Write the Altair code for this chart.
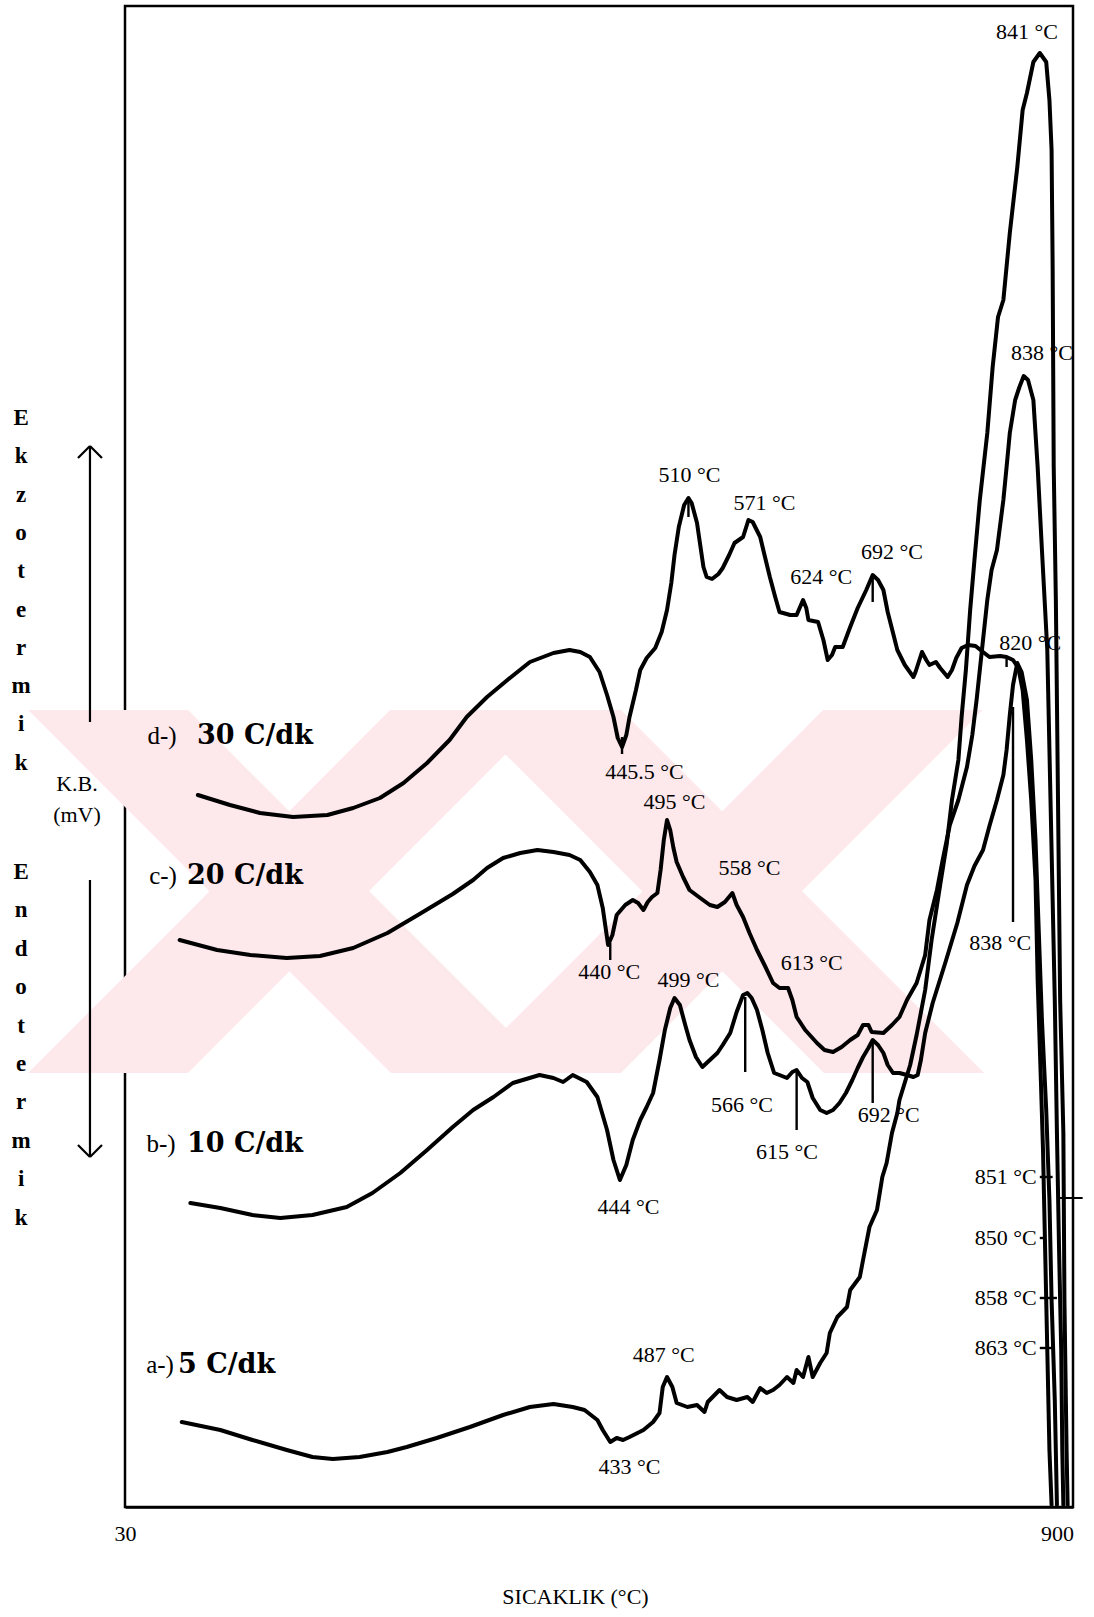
import altair as alt
import pandas as pd

# ---- DTA curves: temperature axis units and differential signal (arbitrary mV units) ----
# d-) 30 C/dk
d_temp = [98, 128, 156, 187, 219, 243, 268, 290, 312, 333, 349, 368, 387, 408, 430, 445, 455, 464,
          473, 480, 486, 490, 494, 498, 501, 507, 511, 517, 525, 531, 536, 540, 543, 547, 552, 556,
          559, 564, 567, 570, 573, 578, 584, 588, 594, 599, 607, 612, 616, 623, 627, 632, 637, 641,
          651, 657, 663, 666, 668, 677, 682, 686, 690, 693, 700, 707, 714, 722, 728, 733, 738, 742,
          747, 751, 758, 766, 768, 774, 778, 781, 787, 791, 798, 802, 806, 811, 817, 824, 831, 837,
          847, 853, 859, 864, 868, 872, 876, 880, 882, 885, 887, 889, 891, 893, 895]
d_sig = [71.2, 70.2, 69.4, 69.0, 69.2, 69.9, 70.9, 72.4, 74.4, 76.7, 79.0, 81.0, 82.7, 84.5, 85.4,
         85.7, 85.5, 85.0, 83.5, 81.2, 79.0, 76.9, 76.0, 77.2, 79.0, 81.7, 83.7, 84.9, 85.9, 87.5,
         89.7, 92.4, 95.2, 98.0, 100.2, 100.9, 100.4, 98.4, 96.2, 94.0, 93.0, 92.8, 93.3, 93.9, 95.2,
         96.4, 97.0, 98.7, 98.5, 97.0, 95.2, 93.0, 91.0, 89.5, 89.2, 89.2, 90.7, 89.9, 88.7, 88.5,
         86.7, 84.7, 85.2, 86.0, 86.0, 88.0, 89.9, 91.7, 93.2, 92.7, 91.7, 89.5, 87.4, 85.7, 84.2,
         83.0, 83.5, 85.5, 84.7, 84.2, 84.5, 83.9, 83.0, 83.7, 84.9, 85.9, 86.2, 86.1, 85.5, 85.0,
         85.1, 85.0, 84.7, 83.9, 81.7, 76.7, 70.7, 62.7, 52.7, 42.7, 35.7, 25.7, 15.7, 5.7, 0.2]

# c-) 20 C/dk
c_temp = [81, 116, 147, 181, 212, 243, 275, 305, 336, 355, 368, 383, 399, 415, 430, 445, 455, 464,
          471, 476, 481, 485, 489, 497, 504, 509, 514, 518, 522, 527, 530, 533, 536, 539, 542, 545,
          551, 557, 567, 576, 583, 590, 597, 601, 607, 613, 620, 627, 635, 641, 649, 653, 657, 665,
          676, 683, 691, 699, 707, 714, 719, 724, 727, 738, 746, 753, 760, 769, 777, 781, 788, 793,
          800, 808, 816, 821, 825, 830, 835, 839, 844, 850, 853, 856, 861, 865, 869, 873, 878, 882,
          886, 891, 893, 896, 898, 900, 902, 904, 905, 906]
c_sig = [56.7, 55.7, 55.2, 54.9, 55.1, 55.9, 57.4, 59.3, 61.3, 62.7, 63.9, 64.9, 65.4, 65.7, 65.5,
         65.2, 64.7, 63.5, 62.2, 59.9, 56.2, 57.2, 59.2, 60.2, 60.7, 60.4, 59.7, 60.5, 61.0, 61.4,
         63.7, 66.7, 68.7, 67.7, 65.9, 64.5, 63.0, 61.7, 60.9, 60.2, 60.0, 60.5, 61.4, 60.2, 59.0,
         57.4, 55.7, 54.2, 52.4, 51.9, 51.9, 50.7, 49.0, 47.7, 46.4, 45.7, 45.5, 46.0, 46.7, 47.2,
         48.2, 48.2, 47.5, 47.4, 48.2, 49.0, 50.7, 52.4, 55.2, 58.7, 61.7, 64.5, 68.2, 70.7, 74.0,
         77.2, 80.7, 85.7, 90.7, 93.7, 95.7, 100.7, 104.0, 107.4, 110.7, 112.0, 113.1, 112.7, 110.7,
         104.0, 95.7, 85.7, 75.7, 60.7, 50.7, 37.4, 25.7, 15.7, 5.7, 0.2]

# b-) 10 C/dk
b_temp = [91, 119, 149, 175, 205, 237, 261, 287, 312, 336, 355, 374, 392, 417, 430, 439, 448, 461,
          471, 480, 486, 492, 498, 504, 511, 517, 523, 529, 534, 539, 543, 548, 553, 557, 563, 569,
          576, 583, 588, 595, 601, 607, 611, 615, 620, 625, 630, 636, 641, 648, 653, 657, 662, 667,
          672, 679, 685, 691, 697, 703, 709, 714, 719, 724, 728, 733, 738, 742, 747, 753, 760, 766,
          770, 773, 777, 784, 796, 807, 816, 823, 831, 837, 844, 850, 853, 856, 859, 863, 867, 872,
          876, 880, 883, 886, 890, 893, 895, 898, 900]
b_sig = [30.4, 29.9, 29.2, 28.9, 29.2, 30.0, 31.4, 33.4, 35.7, 38.0, 39.7, 41.0, 42.4, 43.2, 42.9,
         42.5, 43.2, 42.5, 41.0, 37.7, 34.7, 32.7, 34.2, 36.7, 38.7, 40.0, 41.4, 44.7, 47.7, 49.9,
         50.9, 50.2, 48.2, 46.7, 45.0, 44.0, 44.7, 45.4, 46.2, 47.4, 49.5, 51.2, 51.4, 50.9, 49.7,
         47.7, 45.4, 43.4, 43.2, 42.9, 43.5, 43.7, 42.9, 42.5, 40.9, 39.7, 39.4, 39.7, 40.4, 41.4,
         42.7, 43.9, 45.0, 45.9, 46.7, 46.2, 45.4, 44.2, 43.4, 43.4, 43.2, 43.0, 43.2, 44.7, 47.4,
         50.4, 54.5, 58.4, 62.2, 64.1, 65.7, 68.1, 70.7, 73.2, 75.7, 79.2, 82.2, 84.4, 83.5, 80.7,
         74.7, 66.7, 57.7, 48.7, 39.7, 30.7, 20.7, 10.7, 0.2]

# a-) 5 C/dk
a_temp = [83, 119, 149, 181, 205, 224, 249, 275, 293, 321, 352, 383, 408, 430, 448, 459, 471, 476,
          483, 489, 495, 501, 514, 523, 529, 532, 536, 541, 545, 555, 564, 571, 574, 585, 592, 601,
          611, 616, 623, 629, 635, 641, 648, 654, 657, 663, 668, 672, 679, 685, 688, 695, 704, 707,
          716, 719, 725, 732, 737, 741, 746, 751, 753, 763, 769, 777, 783, 791, 797, 802, 808, 811,
          815, 819, 823, 828, 835, 840, 845, 850, 856, 863, 868, 872, 878, 884, 890, 893, 895, 896,
          897, 899, 901, 903, 906, 907, 909, 910]
a_sig = [8.5, 7.7, 6.7, 5.7, 5.0, 4.8, 5.0, 5.5, 6.0, 6.9, 8.0, 9.2, 10.0, 10.3, 10.0, 9.7, 8.7,
         7.7, 6.5, 6.9, 6.7, 7.0, 7.7, 8.5, 9.4, 12.0, 13.0, 12.0, 10.4, 10.0, 10.2, 9.5, 10.5, 11.7,
         11.0, 10.7, 11.0, 10.5, 11.9, 11.4, 11.7, 12.2, 13.0, 12.4, 13.7, 13.0, 15.0, 13.0, 14.4,
         15.4, 17.4, 19.0, 20.0, 21.7, 23.0, 24.7, 28.0, 29.7, 33.0, 34.4, 37.4, 39.4, 40.7, 44.2,
         47.2, 51.7, 56.7, 62.2, 66.2, 70.7, 74.7, 79.0, 83.7, 89.7, 94.7, 100.7, 107.4, 114.0,
         119.0, 120.7, 127.4, 134.0, 139.7, 141.4, 144.5, 145.4, 144.5, 140.7, 135.7, 124.0, 104.0,
         90.7, 70.7, 50.7, 37.4, 20.7, 5.7, 0.2]

# ---- peak / event annotations ----
peak_text = ["445.5 °C", "510 °C", "571 °C", "624 °C", "692 °C", "820 °C",
             "495 °C", "558 °C", "440 °C", "613 °C",
             "499 °C", "444 °C", "566 °C", "615 °C", "692 °C", "838 °C",
             "487 °C", "433 °C", "841 °C", "838 °C"]
peak_temp = [515, 557, 627, 680, 746, 875,
             543, 613, 482, 671,
             556, 500, 606, 648, 743, 847,
             533, 501, 872, 886]
peak_sig = [73.5, 103.2, 100.4, 93.0, 95.5, 86.4,
            70.5, 63.9, 53.5, 54.4,
            52.7, 30.0, 40.2, 35.5, 39.2, 56.4,
            15.2, 4.0, 147.5, 115.4]

# vertical leader marks from peaks to their labels
lead_temp = [494, 556, 728, 853, 483, 609, 657, 728, 859]
lead_top = [77.0, 101.0, 93.0, 84.8, 56.4, 51.0, 43.7, 46.7, 80.0]
lead_bot = [75.3, 99.0, 90.5, 84.0, 54.7, 43.5, 37.7, 40.4, 58.5]

# end-of-reaction temperatures on the falling branches
end_text = ["851 °C", "850 °C", "858 °C", "863 °C"]
end_sig = [33.0, 26.9, 20.9, 15.9]
end_tick_from = [884, 884, 884, 884]
end_tick_to = [896, 889, 900, 896]

# heating-rate labels
rate_prefix = ["d-)", "c-)", "b-)", "a-)"]
rate_text = ["30  C/dk", "20  C/dk", "10  C/dk", "5  C/dk"]
rate_prefix_temp = [64.5, 65.5, 63.6, 62.7]
rate_temp = [97.2, 87.9, 87.9, 79.5]
rate_sig = [77.1, 63.1, 36.3, 14.2]

# faint background emblem: four diagonal bands forming two crosses
band_id = ["x1a"] * 4 + ["x1b"] * 4 + ["x2a"] * 4 + ["x2b"] * 4
band_temp = [-60.5, 88.8, 278.3, 427.7,
             -60.5, 88.8, 277.4, 426.7,
             343.7, 493.0, 682.5, 831.9,
             343.7, 493.0, 681.6, 830.9]
band_hi = [79.7, 79.7, 59.4, 43.4,
           43.4, 59.4, 79.7, 79.7,
           79.7, 79.7, 59.4, 43.4,
           43.4, 59.4, 79.7, 79.7]
band_lo = [79.7, 63.7, 43.4, 43.4,
           43.4, 43.4, 63.7, 79.7,
           79.7, 63.7, 43.4, 43.4,
           43.4, 43.4, 63.7, 79.7]

x_scale = alt.Scale(domain=[30, 915], nice=False, zero=False)
y_scale = alt.Scale(domain=[0, 150.1], nice=False, zero=False)
x_axis = alt.Axis(values=[30, 900], ticks=False, tickSize=0, grid=False, labelPadding=16,
                  labelFlush=False, labelFont="Liberation Serif", labelFontSize=22,
                  labelColor="black", domainColor="black", domainWidth=2.5,
                  title="SICAKLIK (°C)", titleFont="Liberation Serif", titleFontSize=22,
                  titleFontWeight="normal", titleColor="black", titleX=450, titleY=89,
                  titleAlign="center", titleBaseline="middle")


def X(field):
    return alt.X(field, type="quantitative", scale=x_scale, axis=x_axis)


def Y(field):
    return alt.Y(field, type="quantitative", scale=y_scale, axis=None)


bands_df = pd.DataFrame({"band": band_id, "T": band_temp, "hi": band_hi, "lo": band_lo})
bands = alt.Chart(bands_df).mark_area(color="#fde8ec", opacity=1, clip=False).encode(
    x=X("T"), y=Y("hi"), y2="lo", detail="band:N")

rows = []
for name, ts, vs in [("d", d_temp, d_sig), ("c", c_temp, c_sig),
                     ("b", b_temp, b_sig), ("a", a_temp, a_sig)]:
    for i, (t, v) in enumerate(zip(ts, vs)):
        rows.append({"curve": name, "i": i, "T": t, "V": v})
curves_df = pd.DataFrame(rows)

curves = alt.Chart(curves_df).mark_line(
    color="black", strokeWidth=4, strokeJoin="round", strokeCap="round"
).encode(x=X("T"), y=Y("V"), detail="curve:N", order="i:Q")

peaks_df = pd.DataFrame({"label": peak_text, "T": peak_temp, "V": peak_sig})
peak_labels = alt.Chart(peaks_df).mark_text(
    font="Liberation Serif", fontSize=22, color="black", baseline="middle", align="center"
).encode(x=X("T"), y=Y("V"), text="label:N")

leads_df = pd.DataFrame({"T": lead_temp, "V1": lead_top, "V2": lead_bot})
leads = alt.Chart(leads_df).mark_rule(color="black", strokeWidth=2.4).encode(
    x=X("T"), y=Y("V1"), y2="V2")

ends_df = pd.DataFrame({"label": end_text, "V": end_sig, "T1": end_tick_from, "T2": end_tick_to})
end_labels = alt.Chart(ends_df).mark_text(
    font="Liberation Serif", fontSize=22, color="black", baseline="middle", align="right", dx=-3
).encode(x=X("T1"), y=Y("V"), text="label:N")
end_ticks = alt.Chart(ends_df).mark_rule(color="black", strokeWidth=2.4).encode(
    x=X("T1"), x2="T2", y=Y("V"))
side_tick = alt.Chart(pd.DataFrame({"T1": [900], "T2": [924], "V": [30.9]})).mark_rule(
    color="black", strokeWidth=2, clip=False).encode(x=X("T1"), x2="T2", y=Y("V"))

rates_df = pd.DataFrame({"prefix": rate_prefix, "label": rate_text, "Tp": rate_prefix_temp,
                         "T": rate_temp, "V": rate_sig})
rate_prefix_marks = alt.Chart(rates_df).mark_text(
    font="Liberation Serif", fontSize=25, color="black", baseline="middle", align="center"
).encode(x=X("Tp"), y=Y("V"), text="prefix:N")
rate_marks = alt.Chart(rates_df).mark_text(
    font="DejaVu Serif", fontWeight="bold", fontSize=27, color="black", baseline="middle",
    align="left"
).encode(x=X("T"), y=Y("V"), text="label:N")

# vertical signal-axis caption: Ekzotermik / K.B. (mV) / Endotermik with arrows
exo_word = alt.Chart(pd.DataFrame({"T": [-67.0], "V": [108.2]})).mark_text(
    font="Liberation Serif", fontWeight="bold", fontSize=23, color="black", align="center",
    baseline="alphabetic", lineHeight=38.3, clip=False
).encode(x=X("T"), y=Y("V"), text=alt.value(list("Ekzotermik")))
endo_word = alt.Chart(pd.DataFrame({"T": [-67.0], "V": [62.8]})).mark_text(
    font="Liberation Serif", fontWeight="bold", fontSize=23, color="black", align="center",
    baseline="alphabetic", lineHeight=38.4, clip=False
).encode(x=X("T"), y=Y("V"), text=alt.value(list("Endotermik")))
kb_df = pd.DataFrame({"label": ["K.B.", "(mV)"], "T": [-14.8, -14.8], "V": [72.3, 69.2]})
kb = alt.Chart(kb_df).mark_text(
    font="Liberation Serif", fontSize=22, color="black", align="center", baseline="middle",
    clip=False
).encode(x=X("T"), y=Y("V"), text="label:N")

arrow_df = pd.DataFrame({
    "T1": [-2.7, -13.9, 8.5, -2.7, -13.9, 8.5],
    "T2": [-2.7, -2.7, -2.7, -2.7, -2.7, -2.7],
    "V1": [106.0, 104.9, 104.9, 62.7, 36.2, 36.2],
    "V2": [78.5, 106.1, 106.1, 35.0, 35.0, 35.0],
})
arrows = alt.Chart(arrow_df).mark_rule(color="black", strokeWidth=2.2, clip=False).encode(
    x=X("T1"), x2="T2", y=Y("V1"), y2="V2")

chart = alt.layer(
    bands, curves, leads, peak_labels, end_ticks, end_labels, side_tick,
    rate_prefix_marks, rate_marks, exo_word, endo_word, kb, arrows
).properties(
    width=948, height=1501,
    autosize=alt.AutoSizeParams(type="none"),
    padding={"left": 125, "top": 6, "right": 21, "bottom": 110},
    background="white",
).configure_view(stroke="black", strokeWidth=2.5)

chart.save("out.html", embed_options={"renderer": "svg", "actions": False})
